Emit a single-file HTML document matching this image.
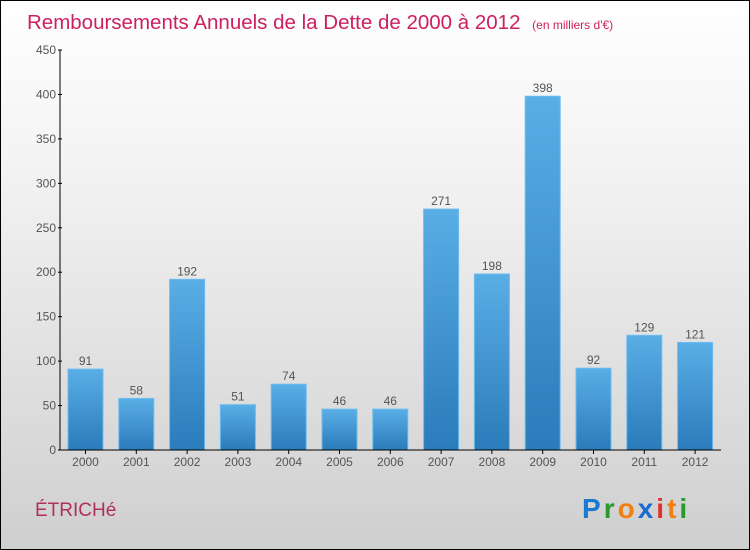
<!DOCTYPE html>
<html><head><meta charset="utf-8"><style>
body{margin:0;width:750px;height:550px;overflow:hidden;font-family:"Liberation Sans",sans-serif}
#frame{position:absolute;left:0;top:0;width:748px;height:548px;border:1px solid #000;background:linear-gradient(#ffffff,#f3f3f3 30%,#cfcfcf)}
</style></head><body>
<div id="frame"></div>
<svg id="chart" width="750" height="550" style="position:absolute;left:0;top:0">
<defs><linearGradient id="bg" x1="0" y1="0" x2="0" y2="1"><stop offset="0" stop-color="#5aaee6"/><stop offset="1" stop-color="#2a7cba"/></linearGradient></defs>
<text x="27" y="29" font-size="20.5" fill="#cc2060">Remboursements Annuels de la Dette de 2000 à 2012 <tspan font-size="12" dx="6">(en milliers d'€)</tspan></text>
<text x="35" y="516" font-size="19" fill="#b0305a">ÉTRICHé</text>
<text x="582" y="518" font-size="28" font-weight="bold" letter-spacing="3"><tspan fill="#1a7ad0">P</tspan><tspan fill="#2a9a30">r</tspan><tspan fill="#f08010">o</tspan><tspan fill="#1a6ad0">x</tspan><tspan fill="#e03030">i</tspan><tspan fill="#f08010">t</tspan><tspan fill="#2a9a30">i</tspan></text>
<g id="plot"></g>
</svg>
<script>
const years=["2000","2001","2002","2003","2004","2005","2006","2007","2008","2009","2010","2011","2012"];
const values=[91,58,192,51,74,46,46,271,198,398,92,129,121];
const yTicks=[0,50,100,150,200,250,300,350,400,450];
const NS="http://www.w3.org/2000/svg";
const g=document.getElementById('plot');
const x0=60,x1=721,yBase=450,yTop=50,yMax=450;
const y=v=>yBase-(v/yMax)*(yBase-yTop);
const step=50.8,first=85.5,bw=35;
const xc=i=>first+i*step;
function mk(t,a){const e=document.createElementNS(NS,t);for(const k in a)e.setAttribute(k,a[k]);g.appendChild(e);return e;}
values.forEach((v,i)=>{
 const r=mk('rect',{x:xc(i)-bw/2,y:y(v),width:bw,height:yBase-y(v),fill:'url(#bg)',stroke:'#6bbcf0','stroke-width':1});
 
 
 const t=mk('text',{x:xc(i),y:y(v)-4,'font-size':12,fill:'#555','text-anchor':'middle'});t.textContent=v;
 
 
 const l=mk('text',{x:xc(i),y:466,'font-size':12,fill:'#555','text-anchor':'middle'});l.textContent=years[i];
 
 
 const tk=mk('line',{x1:xc(i),x2:xc(i),y1:yBase,y2:yBase+4,stroke:'#000'});
 
 
});
yTicks.forEach(v=>{
 const t=mk('text',{x:56,y:y(v)+4,'font-size':12,fill:'#555','text-anchor':'end'});t.textContent=v;
 
 
 const tk=mk('line',{x1:x0-2,x2:x0+2,y1:y(v),y2:y(v),stroke:'#000'});
 
 
});
const ya=mk('line',{x1:x0,x2:x0,y1:yTop,y2:yBase,stroke:'#000','stroke-width':1});


const xa=mk('line',{x1:x0,x2:x1,y1:yBase,y2:yBase,stroke:'#000','stroke-width':1});


</script>
</body></html>
